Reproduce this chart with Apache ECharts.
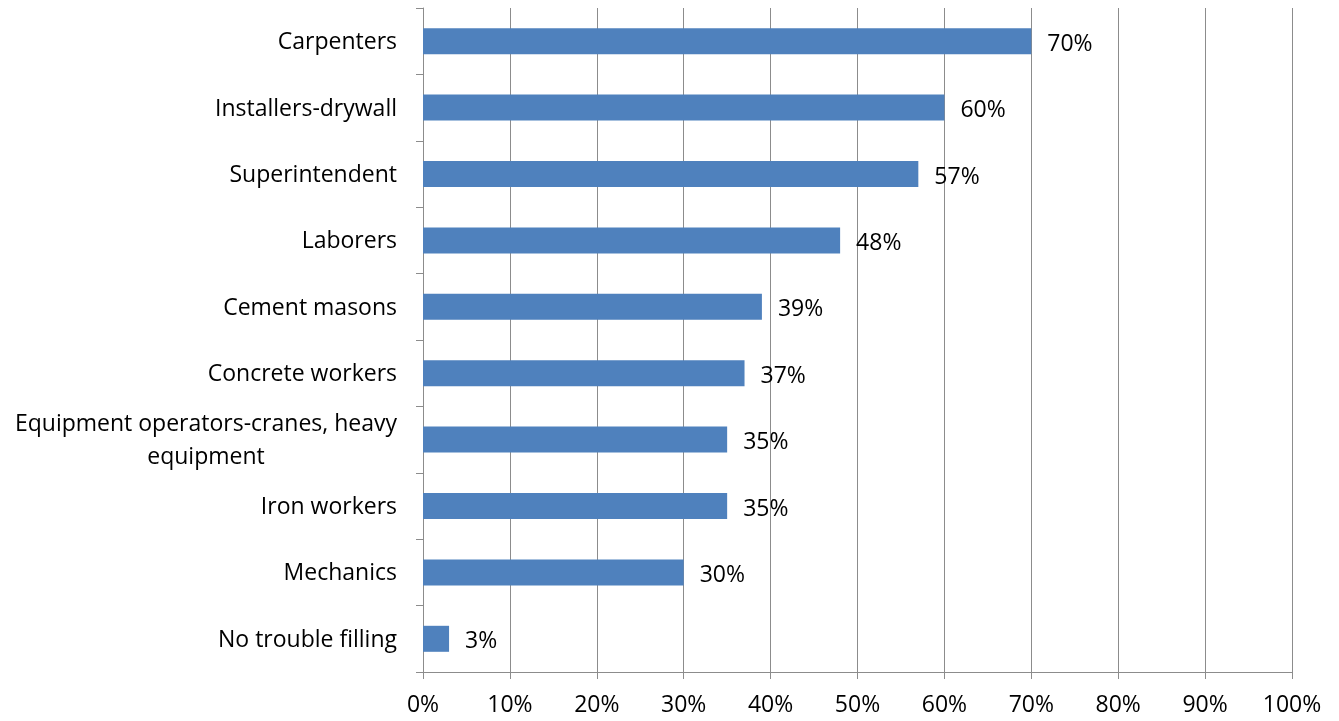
<!DOCTYPE html>
<html>
<head>
<meta charset="utf-8">
<script src="https://cdn.jsdelivr.net/npm/echarts@6/dist/echarts.min.js"></script>
<style>
  html, body { margin: 0; padding: 0; background: #ffffff; }
  #chart { width: 1339px; height: 721px; }
</style>
</head>
<body>
<div id="chart"></div>
<script>
// Trades that were hard to fill (share of respondents)
const categories = [
  'Carpenters',
  'Installers-drywall',
  'Superintendent',
  'Laborers',
  'Cement masons',
  'Concrete workers',
  'Equipment operators-cranes, heavy\nequipment',
  'Iron workers',
  'Mechanics',
  'No trouble filling'
];
const values = [70, 60, 57, 48, 39, 37, 35, 35, 30, 3];

const FONT = '"Open Sans", sans-serif';
const FONT_SIZE = 23;
const AXIS_GREY = '#8c8c8c';

const chart = echarts.init(document.getElementById('chart'));
chart.setOption({
  animation: false,
  backgroundColor: '#ffffff',
  grid: { left: 423, right: 47, top: 8, bottom: 49, containLabel: false },
  xAxis: {
    type: 'value',
    min: 0,
    max: 100,
    interval: 10,
    axisLine: { show: true, lineStyle: { color: AXIS_GREY, width: 1 } },
    axisTick: { show: true, length: 7, lineStyle: { color: AXIS_GREY } },
    splitLine: { show: true, lineStyle: { color: AXIS_GREY, width: 1 } },
    axisLabel: {
      formatter: '{value}%',
      color: '#000000',
      fontFamily: FONT,
      fontSize: FONT_SIZE,
      margin: 22
    }
  },
  yAxis: {
    type: 'category',
    inverse: true,
    data: categories,
    axisLine: { show: true, lineStyle: { color: AXIS_GREY, width: 1 } },
    axisTick: { show: true, length: 7, lineStyle: { color: AXIS_GREY } },
    splitLine: { show: false },
    axisLabel: {
      color: '#000000',
      fontFamily: FONT,
      fontSize: FONT_SIZE,
      margin: 26,
      align: 'right',
      lineHeight: 33,
      formatter: function (v) {
        return v.split('\n').map(function (line) { return '{c|' + line + '}'; }).join('\n');
      },
      rich: {
        c: { align: 'center', color: '#000000', fontFamily: FONT, fontSize: FONT_SIZE, lineHeight: 33, padding: [3, 0, 0, 0] }
      }
    }
  },
  series: [{
    type: 'bar',
    data: values,
    barWidth: 26,
    itemStyle: { color: '#4f81bd' },
    label: {
      show: true,
      position: 'right',
      distance: 16,
      offset: [0, 3],
      formatter: '{c}%',
      color: '#000000',
      fontFamily: FONT,
      fontSize: FONT_SIZE
    }
  }]
});
</script>
</body>
</html>
